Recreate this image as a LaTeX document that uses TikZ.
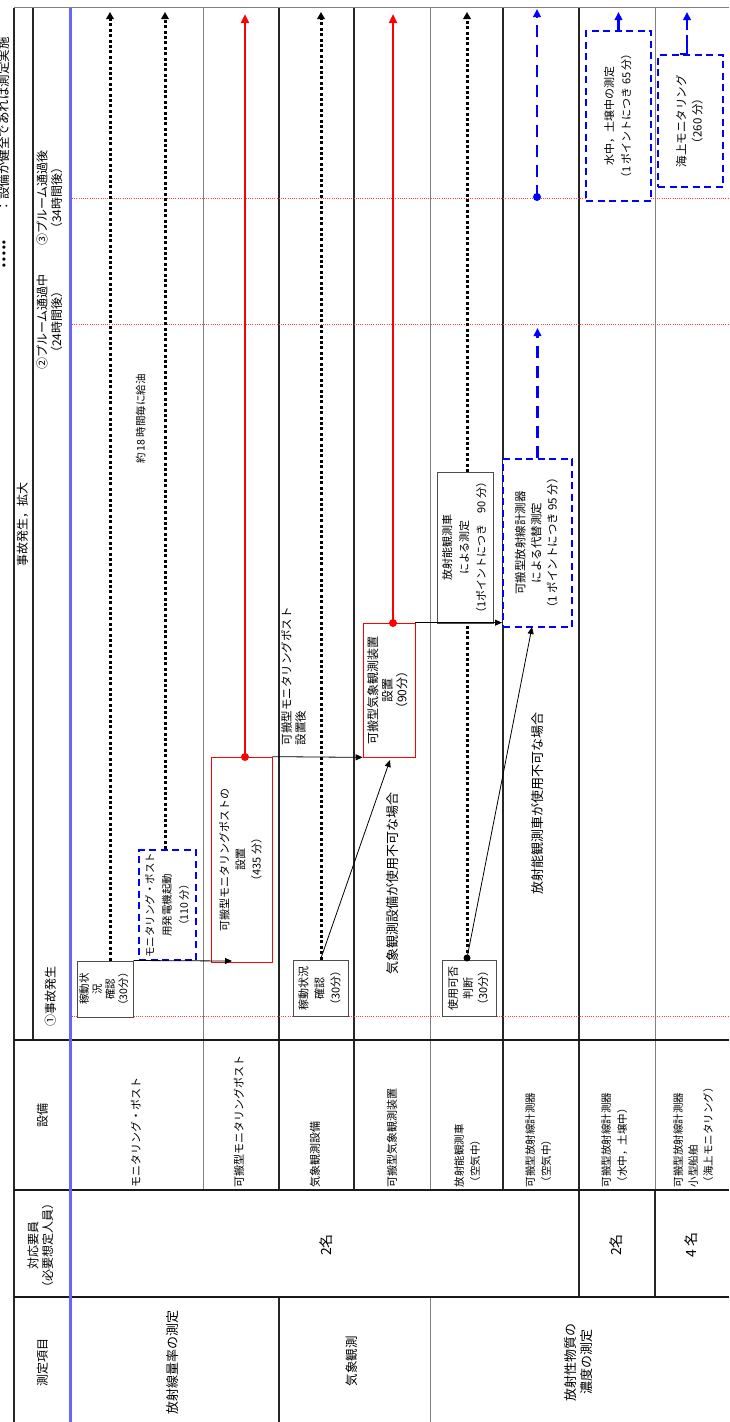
\documentclass[tikz,border=0pt]{standalone}
\usepackage{fontspec}
\usepackage{graphicx}
\setmainfont{Noto Sans CJK JP}
\newfontfamily\dejavu{DejaVu Sans}
\usetikzlibrary{arrows.meta,calc,backgrounds}
\newcommand\rtc[3]{\rotatebox{90}{\fontsize{#1}{#2}\selectfont\begin{tabular}{@{}c@{}}#3\end{tabular}}}
\newcommand\rtl[3]{\rotatebox{90}{\fontsize{#1}{#2}\selectfont\begin{tabular}{@{}l@{}}#3\end{tabular}}}
\tikzset{
 gridk/.style={line width=1.1pt, black!85},
 gridg/.style={line width=0.9pt, black!50},
 hline/.style={line width=1.4pt, black!90},
 tmark/.style={red!75, line width=0.9pt, dash pattern=on 1pt off 1.2pt},
 dotl/.style={line width=3pt, dash pattern=on 3pt off 2.4pt, -{Triangle[length=7pt,width=7.5pt]}},
 redl/.style={red, line width=2.4pt, -{Triangle[length=9pt,width=8pt]}},
 bluel/.style={blue, line width=2.8pt, dash pattern=on 12pt off 8pt, -{Triangle[length=8pt,width=7.5pt]}},
 thinarr/.style={black, line width=0.8pt, -{Triangle[length=7pt,width=6pt]}},
 bbox/.style={draw=black!70, line width=1pt, fill=white, inner sep=0pt},
 rbox/.style={draw=red, line width=0.7pt, fill=white, inner sep=0pt},
 dbox/.style={draw=blue, line width=2pt, dash pattern=on 7pt off 4.5pt, fill=white, inner sep=0pt},
 lbl/.style={inner sep=0pt, outer sep=0pt},
}
\begin{document}
\begin{tikzpicture}[x=1pt,y=-1pt]
\useasboundingbox (0,0) rectangle (729,1422);

% ---------- boxes ----------
\node[bbox, minimum width=56pt, minimum height=56pt] (b1) at (105,989) {\rtc{10.5}{13}{稼動状\\況\\確認\\（30分）}};
\node[dbox, minimum width=57pt, minimum height=110pt] (gen) at (167.5,905) {\rtc{10.5}{17}{モニタリング・ポスト\\用発電機起動\\（110 分）}};
\node[rbox, minimum width=61pt, minimum height=205pt] (mp) at (241.5,859.5) {\rtc{11}{16}{可搬型モニタリングポストの\\設置\\（435 分）}};
\node[bbox, minimum width=55pt, minimum height=56pt] (b3) at (320.5,988) {\rtc{11}{16}{稼動状況\\確認\\（30分）}};
\node[rbox, minimum width=52pt, minimum height=134pt] (wx) at (389,690) {\rtc{12}{14.5}{可搬型気象観測装置\\設置\\（90分）}};
\node[bbox, minimum width=54pt, minimum height=56pt] (b5) at (469,988) {\rtc{11}{15}{使用可否\\判断\\（30分）}};
\node[bbox, minimum width=56pt, minimum height=151pt] (car) at (465,547.5) {\rtc{11}{17}{放射能観測車\\による測定\\（1ポイントにつき　90 分）}};
\node[dbox, minimum width=69pt, minimum height=168pt] (alt) at (537.5,543) {\rtc{11.5}{16}{可搬型放射線計測器\\による代替測定\\（1 ポイントにつき 95 分）}};
\node[dbox, minimum width=65pt, minimum height=170pt] (r7) at (618.5,116) {\rtc{11}{17}{水中，土壌中の測定\\（1 ポイントにつき 65 分）}};
\node[dbox, minimum width=65pt, minimum height=132pt] (r8) at (690.5,121) {\rtc{11.5}{16}{海上モニタリング\\（260 分）}};

% ---------- coordinates ----------
\coordinate (top1) at (110,12);
\coordinate (top2) at (165,12);
\coordinate (top3) at (245,14);
\coordinate (top4) at (321,12);
\coordinate (top5) at (393,14);
\coordinate (top6) at (467,12);
\coordinate (top7) at (537,9);
\coordinate (top8) at (618.5,12);
\coordinate (top9) at (687,12);
\coordinate (mpdot) at (245,757);
\coordinate (wxdot) at (393,623);
\coordinate (cardot) at (467,958);
\coordinate (altdot) at (537,197);
\coordinate (altmid) at (537.5,328);
\coordinate (a1) at (232,961);
\coordinate (a3) at (390,760);
\coordinate (a5) at (532,627);
\coordinate (r8a) at (680,54);
\coordinate (r8b) at (687,54);

\begin{pgfonlayer}{background}
\fill[white] (0,0) rectangle (729,1422);
% grid
\draw[gridg] (14,7.5) -- (729,7.5);
\draw[gridk] (14,7.5) -- (14,1422);
\draw[gridk] (33,7.5) -- (33,1040);
\foreach \xx in {279,354,503,579} {\draw[gridk] (\xx,7.5) -- (\xx,1190);}
\foreach \xx in {203,430,655} {\draw[gridg] (\xx,7.5) -- (\xx,1190);}
\draw[gridk] (579,1190) -- (579,1297);
\draw[gridk] (655,1190) -- (655,1297);
\draw[gridk] (279,1297) -- (279,1422);
\draw[gridg] (430,1297) -- (430,1422);
\draw[hline] (14,1040) -- (729,1040);
\draw[hline] (14,1190) -- (729,1190);
\draw[hline] (14,1297) -- (729,1297);
\draw[blue!60, line width=3pt] (70,7.5) -- (70,1422);
% time markers
\draw[tmark] (72,1016) -- (729,1016);
\draw[tmark] (72,324) -- (729,324);
\draw[tmark] (72,198) -- (729,198);
% long connectors
\draw[dotl] (top1 |- b1.north) -- (top1);
\draw[dotl] (top2 |- gen.north) -- (top2);
\draw[redl] (mpdot) -- (top3);
\draw[dotl] (top4 |- b3.north) -- (top4);
\draw[redl] (wxdot) -- (top5);
\draw[dotl] (cardot) -- (top6);
\draw[bluel] (altdot) -- (top7);
\draw[bluel] (alt.north) -- (altmid);
\draw[bluel] (r7.north) -- (top8);
\draw[bluel, dash pattern=on 26pt off 5pt] (r8a) -- (r8b) -- (top9);
\end{pgfonlayer}

% ---------- short arrows and dots ----------
\draw[thinarr] (b1.north east) -- (a1);
\draw[thinarr] (mp.north east) -- (wx.south west);
\draw[thinarr] (b3.north) -- (a3);
\draw[thinarr] (wx.north east) -- (wx.north east -| alt.west);
\draw[thinarr] (cardot) -- (a5);
\fill[red] (mpdot) circle (4pt);
\fill[red] (wxdot) circle (4pt);
\fill[black] (cardot) circle (3.5pt);
\fill[blue] (altdot) circle (4pt);

% ---------- labels ----------
\node[lbl, anchor=south] (l1) at (295,745) {\rtl{11.5}{14}{可搬型モニタリングポスト\\設置後}};
\node[lbl] (l2) at (142,419) {\rtc{10.5}{12}{約 18 時間毎に給油}};
\node[lbl] (l3) at (394,883) {\rtc{13}{14}{気象観測設備が使用不可な場合}};
\node[lbl] (l4) at (539,803) {\rtc{13}{14}{放射能観測車が使用不可な場合}};

\node[lbl] (h0) at (24,524) {\rtc{12}{14}{事故発生，拡大}};
\node[lbl] (h1) at (52,996) {\rtc{12}{14}{①事故発生}};
\node[lbl] (h2) at (51,322) {\rtc{12}{14}{②プルーム通過中\\（24時間後）}};
\node[lbl] (h3) at (51,198) {\rtc{12}{14}{③プルーム通過後\\（34時間後）}};

\node[lbl, anchor=south] (lg1) at (5,268) {\rotatebox{90}{\dejavu\bfseries\fontsize{9}{9}\selectfont •••••}};
\node[lbl, anchor=south] (lg2) at (5,212) {\rtl{12.5}{14}{：設備が健全であれば測定実施}};

\node[lbl, anchor=south] (e1) at (137,1187) {\rtl{11}{15}{モニタリング・ポスト}};
\node[lbl, anchor=south] (e2) at (240,1187) {\rtl{11}{15}{可搬型モニタリングポスト}};
\node[lbl, anchor=south] (e3) at (316,1187) {\rtl{11}{15}{気象観測設備}};
\node[lbl, anchor=south] (e4) at (393,1187) {\rtl{11}{15}{可搬型気象観測装置}};
\node[lbl, anchor=south] (e5) at (468,1187) {\rtl{10.5}{16}{放射能観測車\\（空気中）}};
\node[lbl, anchor=south] (e6) at (539,1187) {\rtl{10.5}{16}{可搬型放射線計測器\\（空気中）}};
\node[lbl, anchor=south] (e7) at (615,1187) {\rtl{10.5}{16}{可搬型放射線計測器\\（水中，土壌中）}};
\node[lbl, anchor=south] (e8) at (694,1187) {\rtl{10.5}{15}{可搬型放射線計測器\\小型船舶\\（海上モニタリング）}};

\node[lbl] (c1) at (44,1115) {\rtc{12}{14}{設備}};
\node[lbl] (c2) at (42,1245) {\rtc{12}{14}{対応要員\\（必要想定人員）}};
\node[lbl] (c3) at (44,1362) {\rtc{12}{14}{測定項目}};

\node[lbl] (s1) at (328,1245) {\rtc{14}{16}{2名}};
\node[lbl] (s2) at (618,1245) {\rtc{14}{16}{2名}};
\node[lbl] (s3) at (693,1245) {\rtc{14}{16}{4 名}};

\node[lbl] (m1) at (174,1362) {\rtc{13}{15}{放射線量率の測定}};
\node[lbl] (m2) at (353,1361) {\rtc{12.5}{15}{気象観測}};
\node[lbl] (m3) at (580,1362) {\rtc{13}{16}{放射性物質の\\濃度の測定}};
\end{tikzpicture}
\end{document}
